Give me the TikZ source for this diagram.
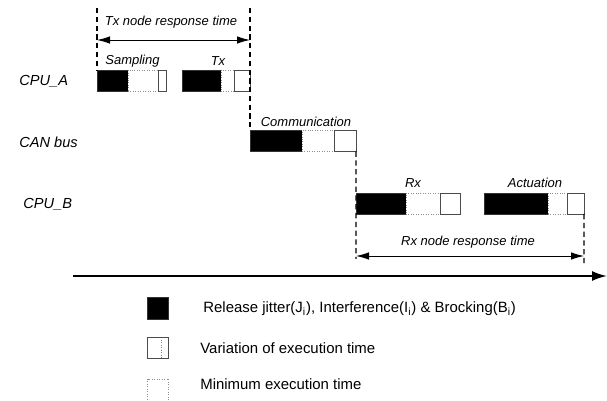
\documentclass[tikz,border=0pt]{standalone}
\usepackage{fontspec}
\setmainfont{Liberation Sans}
\usetikzlibrary{positioning,arrows.meta}

\tikzset{
  seg/.style={rectangle, inner sep=0, outer sep=0, minimum height=0.42cm, anchor=west},
  jit/.style={seg, fill=black, draw=black!80, line width=0.3pt},
  mint/.style={seg, fill=white, draw=black!45, line width=0.4pt, densely dotted},
  vart/.style={seg, fill=white, draw=black!70, line width=0.4pt},
  tasklbl/.style={font=\fontsize{7.4}{9}\selectfont\itshape, inner sep=0},
  rowlbl/.style={font=\fontsize{8.3}{10}\selectfont\itshape, inner sep=0, anchor=west},
  keytxt/.style={font=\fontsize{8.5}{10}\selectfont, inner sep=0, anchor=west},
  guide/.style={line width=0.6pt, dash pattern=on 3pt off 2pt},
  span/.style={line width=0.5pt, {Latex[length=2.6mm,width=1.5mm]}-{Latex[length=2.6mm,width=1.5mm]}},
  axis/.style={line width=1.1pt, -{Latex[length=3mm,width=2mm]}}
}

\begin{document}
\begin{tikzpicture}
\useasboundingbox (0,0) rectangle (12.14,8.02);

% row names
\node[rowlbl] (cpua) at (0.38,6.40) {CPU\_A};
\node[rowlbl] (can) at (0.38,5.18) {CAN bus};
\node[rowlbl] (cpub) at (0.46,3.94) {CPU\_B};

% CPU_A: sampling and tx
\node[jit, minimum width=0.62cm] (sampJ) at (1.94,6.41) {};
\node[mint, minimum width=0.60cm, right=0pt of sampJ] (sampM) {};
\node[vart, minimum width=0.16cm, right=0pt of sampM] (sampV) {};
\node[tasklbl, anchor=west] (samp) at (2.10,6.80) {Sampling};

\node[jit, minimum width=0.78cm] (txJ) at (3.64,6.41) {};
\node[mint, minimum width=0.26cm, right=0pt of txJ] (txM) {};
\node[vart, minimum width=0.32cm, right=0pt of txM] (txV) {};
\node[tasklbl] (tx) at (4.36,6.80) {Tx};

% CAN bus: communication
\node[jit, minimum width=1.04cm] (commJ) at (5.00,5.20) {};
\node[mint, minimum width=0.64cm, right=0pt of commJ] (commM) {};
\node[vart, minimum width=0.44cm, right=0pt of commM] (commV) {};
\node[tasklbl] (comm) at (6.12,5.58) {Communication};

% CPU_B: rx and actuation
\node[jit, minimum width=1.00cm] (rxJ) at (7.12,3.95) {};
\node[mint, minimum width=0.68cm, right=0pt of rxJ] (rxM) {};
\node[vart, minimum width=0.40cm, right=0pt of rxM] (rxV) {};
\node[tasklbl] (rx) at (8.26,4.36) {Rx};

\node[jit, minimum width=1.28cm] (actJ) at (9.68,3.95) {};
\node[mint, minimum width=0.38cm, right=0pt of actJ] (actM) {};
\node[vart, minimum width=0.34cm, right=0pt of actM] (actV) {};
\node[tasklbl] (act) at (10.70,4.36) {Actuation};

% Tx node response time
\coordinate (txTopL) at (1.94,7.86);
\coordinate (txTopR) at (5.00,7.86);
\coordinate (txArrL) at (1.94,7.22);
\coordinate (txArrR) at (5.00,7.22);
\draw[guide] (txTopL) -- (sampJ.north west);
\draw[guide] (txTopR) -- (commJ.north west);
\draw[span] (txArrL) -- (txArrR);
\node[tasklbl] (txresp) at (3.42,7.58) {Tx node response time};

% Rx node response time
\coordinate (rxBotL) at (7.12,2.84);
\coordinate (rxBotR) at (11.68,2.72);
\coordinate (rxArrL) at (7.12,2.90);
\coordinate (rxArrR) at (11.68,2.90);
\draw[guide] (commV.south east) -- (rxBotL);
\draw[guide] (actV.south east) -- (rxBotR);
\draw[span] (rxArrL) -- (rxArrR);
\node[tasklbl] (rxresp) at (9.36,3.18) {Rx node response time};

% time axis
\coordinate (t0) at (1.46,2.50);
\coordinate (t1) at (12.14,2.50);
\draw[axis] (t0) -- (t1);

% legend
\node[jit, minimum width=0.42cm, minimum height=0.44cm, anchor=center] (keyJ) at (3.16,1.85) {};
\node[keytxt, right=0.69cm of keyJ] (keyJtxt)
  {Release jitter(J\textsubscript{i}), Interference(I\textsubscript{i}) \& Brocking(B\textsubscript{i})};
\node[vart, minimum width=0.42cm, minimum height=0.42cm, anchor=center,
  path picture={\draw[black!50, densely dotted] ([xshift=-0.14cm]path picture bounding box.north east)
    -- ([xshift=-0.14cm]path picture bounding box.south east);}] (keyV) at (3.16,1.06) {};
\node[keytxt, right=0.63cm of keyV] (keyVtxt) {Variation of execution time};
\node[mint, minimum width=0.42cm, minimum height=0.44cm, anchor=center] (keyM) at (3.16,0.22) {};
\node[keytxt, anchor=west] (keyMtxt) at (4.00,0.34) {Minimum execution time};
\end{tikzpicture}
\end{document}
